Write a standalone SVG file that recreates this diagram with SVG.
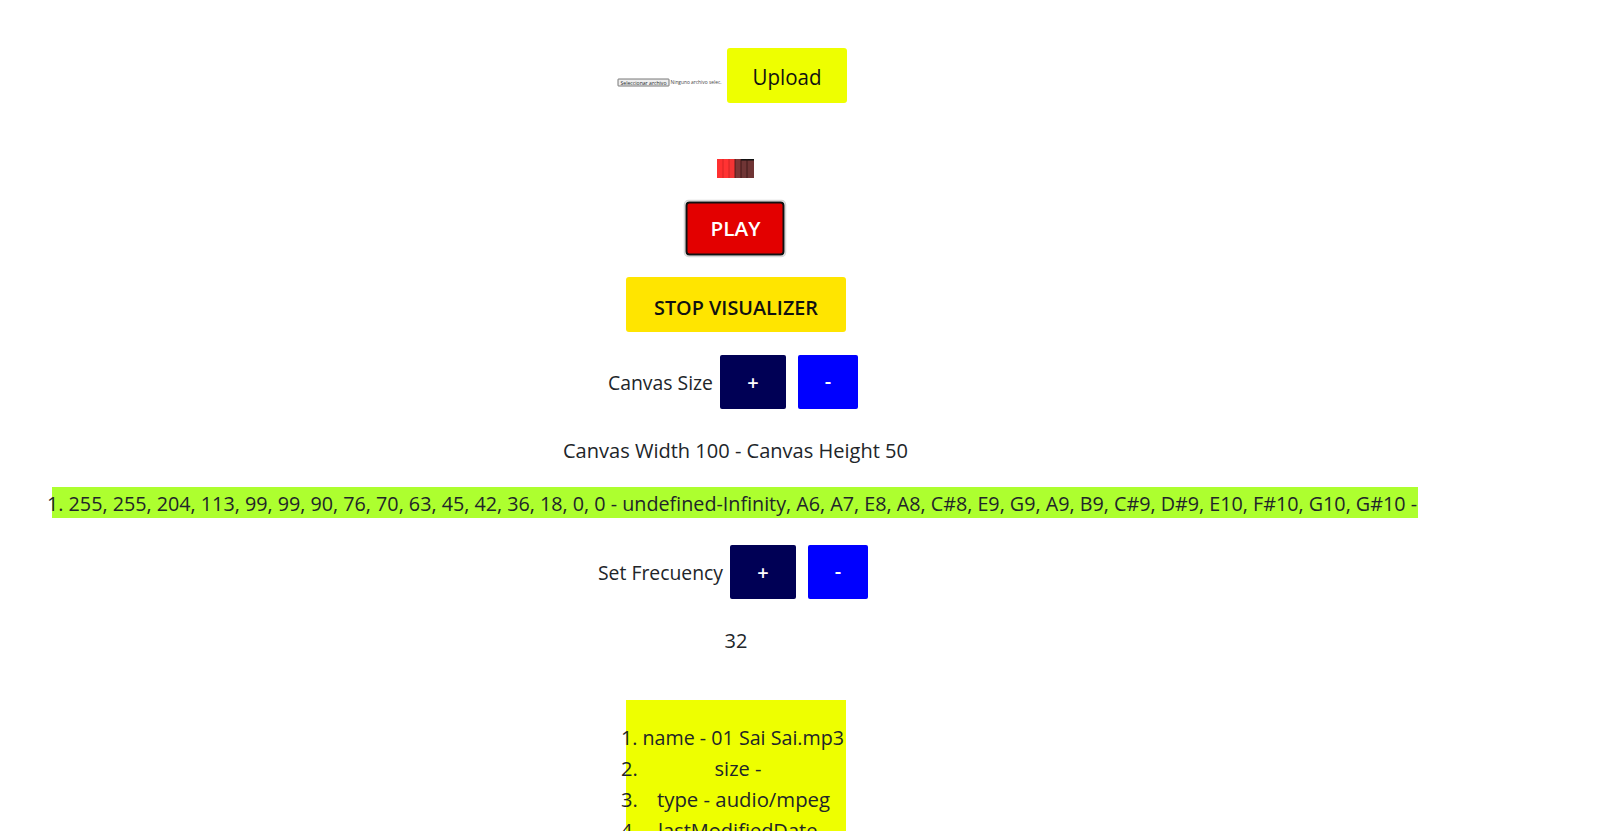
<svg xmlns="http://www.w3.org/2000/svg" width="1602" height="831" viewBox="0 0 1602 831">
<style>
text{font-family:"Open Sans","Noto Sans","Liberation Sans",sans-serif;fill:#212529}
.t{font-size:20px}
.btn{font-weight:600;text-anchor:middle}
.w{fill:#ffffff}
</style>
<rect width="1602" height="831" fill="#ffffff"/>
<g id="file-input">
<rect x="618" y="79" width="51" height="7" fill="#efefef" stroke="#555" stroke-width="0.8" rx="0.5"/>
<text x="643.5" y="84.6" font-size="5" text-anchor="middle" textLength="46" lengthAdjust="spacingAndGlyphs">Seleccionar archivo</text>
<text x="670.5" y="84.2" font-size="5" textLength="51" lengthAdjust="spacingAndGlyphs" style="fill:#444">Ninguno archivo selec.</text>
</g>
<g id="upload">
<rect x="727" y="48" width="120" height="55" rx="3" fill="#eeff00"/>
<text x="787" y="85" font-size="22.5" text-anchor="middle" textLength="69" lengthAdjust="spacingAndGlyphs" style="fill:#111">Upload</text>
</g>
<g id="visualizer">
<rect x="717" y="159" width="6" height="19" fill="#ff3030"/>
<rect x="723" y="159" width="6" height="19" fill="#ff3333"/>
<rect x="729" y="159" width="6" height="19" fill="#f43434"/>
<rect x="735" y="159" width="6" height="19" fill="#7d3636"/>
<rect x="741" y="159" width="6" height="19" fill="#703535"/>
<rect x="747" y="159" width="7" height="19" fill="#6f3434"/>
<rect x="741" y="159" width="13" height="1.5" fill="#111"/>
<line x1="723" y1="159" x2="723" y2="178" stroke="#c22" stroke-width="0.8"/>
<line x1="729" y1="159" x2="729" y2="178" stroke="#c22" stroke-width="0.8"/>
<line x1="735" y1="159" x2="735" y2="178" stroke="#411" stroke-width="0.8"/>
<line x1="741" y1="159" x2="741" y2="178" stroke="#311" stroke-width="0.8"/>
<line x1="747" y1="159" x2="747" y2="178" stroke="#311" stroke-width="0.8"/>
</g>
<g id="play">
<rect x="684.5" y="200.5" width="101" height="56" rx="4" fill="none" stroke="#d8d8d8" stroke-width="1.5"/>
<rect x="686.5" y="202.5" width="97" height="52" rx="3" fill="#e30000" stroke="#111" stroke-width="2"/>
<text x="735.5" y="235.5" font-size="20" class="btn w" textLength="50" lengthAdjust="spacingAndGlyphs">PLAY</text>
</g>
<g id="stop-visualizer">
<rect x="626" y="277" width="220" height="55" rx="3" fill="#ffe500"/>
<text x="736" y="314.5" font-size="20.5" class="btn" textLength="164" lengthAdjust="spacingAndGlyphs" style="fill:#111">STOP VISUALIZER</text>
</g>
<g id="canvas-size">
<text x="608" y="390" class="t" textLength="105" lengthAdjust="spacingAndGlyphs">Canvas Size</text>
<rect x="720" y="355" width="66" height="54" rx="2" fill="#000055"/>
<text x="753" y="390" font-size="20" class="btn w">+</text>
<rect x="798" y="355" width="60" height="54" rx="2" fill="#0000ff"/>
<text x="828" y="388" font-size="20" class="btn w">-</text>
</g>
<g id="canvas-dims">
<text x="563" y="458" class="t" textLength="345" lengthAdjust="spacingAndGlyphs">Canvas Width 100 - Canvas Height 50</text>
</g>
<g id="data-row">
<rect x="52" y="487" width="1366" height="31" fill="#adff2f"/>
<text x="47" y="511" class="t" textLength="1370" lengthAdjust="spacingAndGlyphs">1. 255, 255, 204, 113, 99, 99, 90, 76, 70, 63, 45, 42, 36, 18, 0, 0 - undefined-Infinity, A6, A7, E8, A8, C#8, E9, G9, A9, B9, C#9, D#9, E10, F#10, G10, G#10 -</text>
</g>
<g id="set-frequency">
<text x="598" y="580" class="t" textLength="125" lengthAdjust="spacingAndGlyphs">Set Frecuency</text>
<rect x="730" y="545" width="66" height="54" rx="2" fill="#000055"/>
<text x="763" y="580" font-size="20" class="btn w">+</text>
<rect x="808" y="545" width="60" height="54" rx="2" fill="#0000ff"/>
<text x="838" y="578" font-size="20" class="btn w">-</text>
</g>
<g id="frequency-value">
<text x="736" y="648" class="t" text-anchor="middle">32</text>
</g>
<g id="file-info">
<rect x="626" y="700" width="220" height="131" fill="#eeff00"/>
<text x="621" y="745" class="t" textLength="223" lengthAdjust="spacingAndGlyphs">1. name - 01 Sai Sai.mp3</text>
<text x="621" y="776" class="t">2.</text>
<text x="738" y="776" class="t" text-anchor="middle">size -</text>
<text x="621" y="807" class="t">3.</text>
<text x="657" y="807" class="t" textLength="173" lengthAdjust="spacingAndGlyphs">type - audio/mpeg</text>
<text x="621" y="838" class="t">4.</text>
<text x="658" y="838" class="t">lastModifiedDate</text>
</g>
</svg>
